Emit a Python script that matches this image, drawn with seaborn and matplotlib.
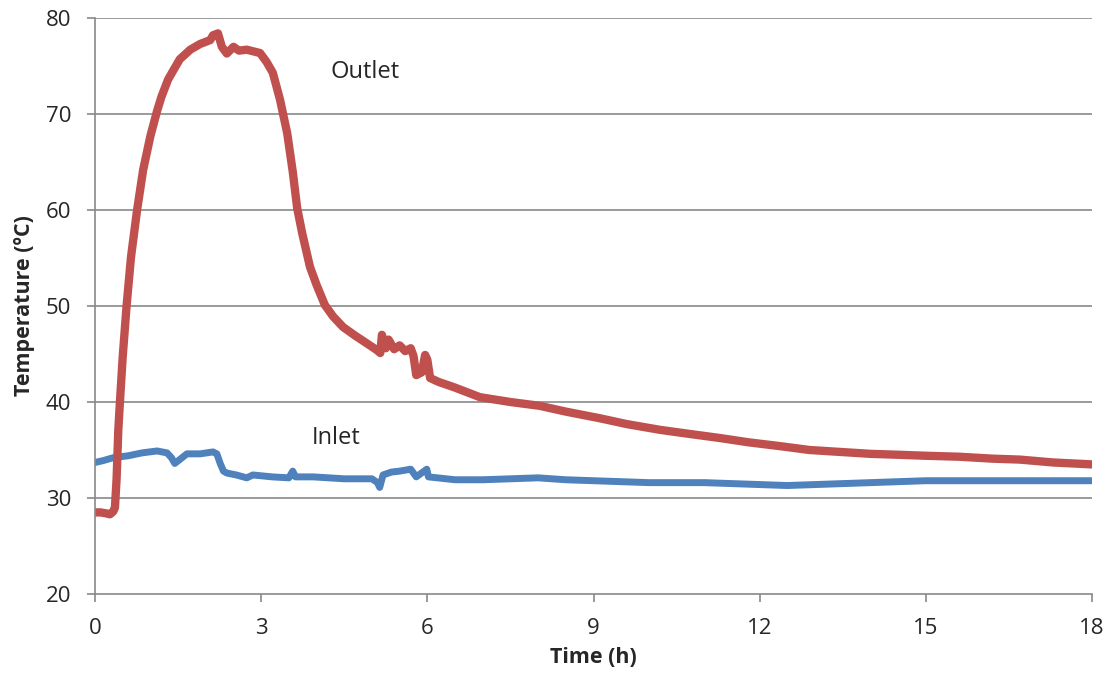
import matplotlib
matplotlib.use("Agg")
import matplotlib.pyplot as plt
import seaborn as sns
import pandas as pd

outlet_t = [0, 0.1, 0.2, 0.27, 0.33, 0.36, 0.39, 0.42, 0.45, 0.5, 0.57, 0.65, 0.76, 0.87, 1.0,
            1.12, 1.2, 1.32, 1.53, 1.72, 1.9, 2.08, 2.13, 2.22, 2.29, 2.38, 2.5, 2.6, 2.74, 2.98,
            3.1, 3.21, 3.34, 3.47, 3.57, 3.65, 3.74, 3.88, 4.0, 4.15, 4.3, 4.48, 4.7, 4.91,
            5.09, 5.15, 5.18, 5.25, 5.3, 5.4, 5.5, 5.6, 5.7, 5.75, 5.8, 5.9, 5.96, 6.0, 6.05,
            6.2, 6.5, 6.95, 7.5, 8.03, 8.5, 9.12, 9.6, 10.2, 10.7, 11.28, 11.8, 12.37, 12.9,
            13.45, 14.0, 14.53, 15.0, 15.6, 16.2, 16.7, 17.3, 18.0]
outlet_T = [28.5, 28.5, 28.4, 28.3, 28.6, 29.0, 32.0, 37.0, 40.0, 44.7, 50.0, 55.1, 60.0, 64.2, 67.7,
            70.3, 71.8, 73.6, 75.7, 76.7, 77.3, 77.7, 78.2, 78.4, 77.0, 76.3, 77.0, 76.6, 76.7, 76.35,
            75.4, 74.3, 71.5, 68.0, 64.0, 60.2, 57.6, 54.1, 52.2, 50.1, 48.9, 47.8, 46.9, 46.1,
            45.4, 45.1, 47.0, 45.6, 46.5, 45.5, 45.9, 45.3, 45.6, 44.8, 42.8, 43.1, 44.9, 44.4, 42.5,
            42.1, 41.5, 40.5, 40.0, 39.6, 39.0, 38.3, 37.7, 37.1, 36.7, 36.25, 35.8, 35.4, 35.0,
            34.8, 34.6, 34.5, 34.4, 34.3, 34.1, 34.0, 33.7, 33.5]

inlet_t = [0, 0.15, 0.33, 0.6, 0.85, 1.12, 1.3, 1.38, 1.44, 1.55, 1.66, 1.9, 2.13, 2.2, 2.26,
           2.32, 2.38, 2.55, 2.74, 2.85, 3.2, 3.5, 3.57, 3.62, 3.94, 4.5, 5.0, 5.1, 5.14, 5.2,
           5.35, 5.5, 5.7, 5.8, 5.99, 6.02, 6.5, 7.0, 7.5, 8.0, 8.5, 9.0, 9.5, 10.0, 10.5, 11.0,
           11.5, 12.0, 12.5, 13.0, 13.5, 14.0, 14.5, 15.0, 15.5, 16.0, 16.5, 17.0, 17.5, 18.0]
inlet_T = [33.7, 33.9, 34.2, 34.4, 34.7, 34.9, 34.7, 34.2, 33.6, 34.1, 34.6, 34.6, 34.8, 34.6, 33.6,
           32.8, 32.6, 32.4, 32.1, 32.4, 32.2, 32.1, 32.8, 32.2, 32.2, 32.0, 32.0, 31.6, 31.1, 32.4,
           32.7, 32.8, 33.0, 32.2, 33.0, 32.2, 31.9, 31.9, 32.0, 32.1, 31.9, 31.8, 31.7, 31.6, 31.6, 31.6,
           31.5, 31.4, 31.3, 31.4, 31.5, 31.6, 31.7, 31.8, 31.8, 31.8, 31.8, 31.8, 31.8, 31.8]

x_ticks = [0, 3, 6, 9, 12, 15, 18]
y_ticks = [20, 30, 40, 50, 60, 70, 80]

sns.set_style("white")
plt.rcParams['font.family'] = ['Open Sans', 'DejaVu Sans']

fig = plt.figure(figsize=(11.1, 6.84), dpi=100)
ax = fig.add_axes([95/1110, 1 - 594/684, (1092-95)/1110, (594-18)/684])

df_out = pd.DataFrame({"t": outlet_t, "T": outlet_T})
df_in = pd.DataFrame({"t": inlet_t, "T": inlet_T})

grid_c = "#898989"
for yv in y_ticks[1:]:
    ax.axhline(yv, color=grid_c, lw=1.2, zorder=0)

sns.lineplot(data=df_in, x="t", y="T", ax=ax, color="#4F81BD", lw=5, sort=False,
             solid_joinstyle="round", solid_capstyle="round")
sns.lineplot(data=df_out, x="t", y="T", ax=ax, color="#C0504D", lw=6, sort=False,
             solid_joinstyle="round", solid_capstyle="round")

ax.set_xlim(0, 18)
ax.set_ylim(20, 80)
ax.set_xticks(x_ticks)
ax.set_yticks(y_ticks)
ax.tick_params(axis="both", labelsize=16, length=6, width=1.2, color=grid_c,
               direction="out", bottom=True, left=True)
ax.tick_params(axis="y", pad=11)
ax.tick_params(axis="x", pad=11)
for s in ["top", "right"]:
    ax.spines[s].set_visible(False)
for s in ["left", "bottom"]:
    ax.spines[s].set_color(grid_c)
    ax.spines[s].set_linewidth(1.2)

ax.set_xlabel("Time (h)", fontsize=15.5, fontweight="bold", labelpad=6)
ax.set_ylabel("Temperature (ºC)", fontsize=15.5, fontweight="bold", labelpad=8)

ax.text(4.87, 74.4, "Outlet", fontsize=17, ha="center", va="center")
ax.text(4.35, 36.3, "Inlet", fontsize=17, ha="center", va="center")

fig.savefig("out.png", dpi=100)
